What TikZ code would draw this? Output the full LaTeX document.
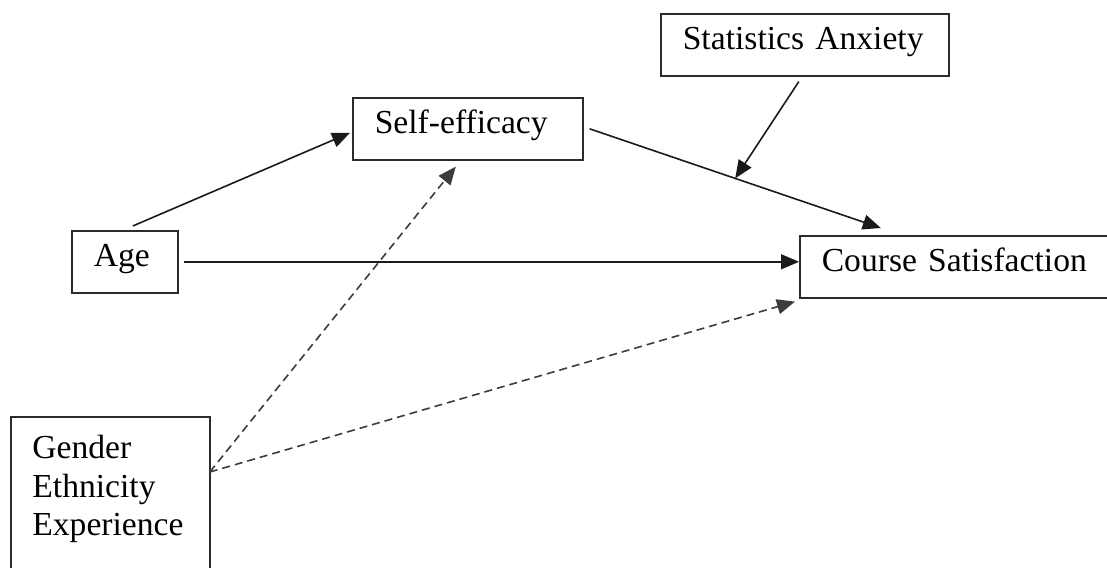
\documentclass[tikz,border=0pt]{standalone}
\usepackage{fontspec}
\setmainfont{Liberation Serif}
\usetikzlibrary{arrows.meta}
\definecolor{BoxEdge}{HTML}{2B2B2B}
\definecolor{PathInk}{HTML}{1A1A1A}
\tikzset{
  varbox/.style={draw=BoxEdge, line width=0.8pt, anchor=north west, align=left,
    inner xsep=11pt, inner ysep=0pt, minimum height=31pt,
    text height=0.68em, text depth=0.22em},
  effect/.style={draw=PathInk, line width=0.8pt, -{Triangle[length=9pt,width=7.5pt]}},
  covar/.style={effect, draw=PathInk!85, dash pattern=on 4pt off 2.5pt}
}
\begin{document}
\begin{tikzpicture}[x=0.5pt,y=-0.5pt,font=\fontsize{16.8}{19.25}\selectfont]
  \useasboundingbox (0,0) rectangle (1107,567);
  \clip (0,0) rectangle (1107,567);

  % ----- variables -----
  \node[varbox, text width=122pt] (anxiety) at (660,13) {Statistics Anxiety};
  \node[varbox, text width=93pt] (efficacy) at (352,97) {Self-efficacy};
  \node[varbox, text width=31pt] (age) at (71,230) {Age};
  \node[varbox, text width=134pt] (satisfaction) at (799,235) {Course Satisfaction};
  \node[anchor=north west, align=left, inner xsep=10.5pt, inner ysep=9pt,
        text width=78pt] (background) at (11,417) {Gender\\Ethnicity\\Experience};
  % open box, runs off the bottom edge
  \draw[draw=BoxEdge, line width=0.8pt]
    ([yshift=-30pt]background.south west) -- (background.north west)
    -- (background.north east) -- ([yshift=-30pt]background.south east);

  % ----- paths -----
  \draw[effect] ([xshift=4pt,yshift=2pt]age.north) -- ([xshift=-1pt,yshift=-2pt]efficacy.west);
  \draw[effect] ([xshift=3pt]efficacy.east) -- coordinate[pos=0.5] (moderation)
    ([xshift=-37.5pt,yshift=3.5pt]satisfaction.north);
  \draw[effect] ([xshift=-3pt,yshift=-2.5pt]anxiety.south) -- (moderation);
  \draw[effect] ([xshift=2.5pt]age.east) -- (age.east -| satisfaction.west);

  % ----- covariates -----
  \draw[covar] ([yshift=-27.5pt]background.north east) -- ([xshift=-6pt,yshift=-3pt]efficacy.south);
  \draw[covar] ([yshift=-27.5pt]background.north east) -- ([xshift=-2pt,yshift=-1.5pt]satisfaction.south west);
\end{tikzpicture}
\end{document}
